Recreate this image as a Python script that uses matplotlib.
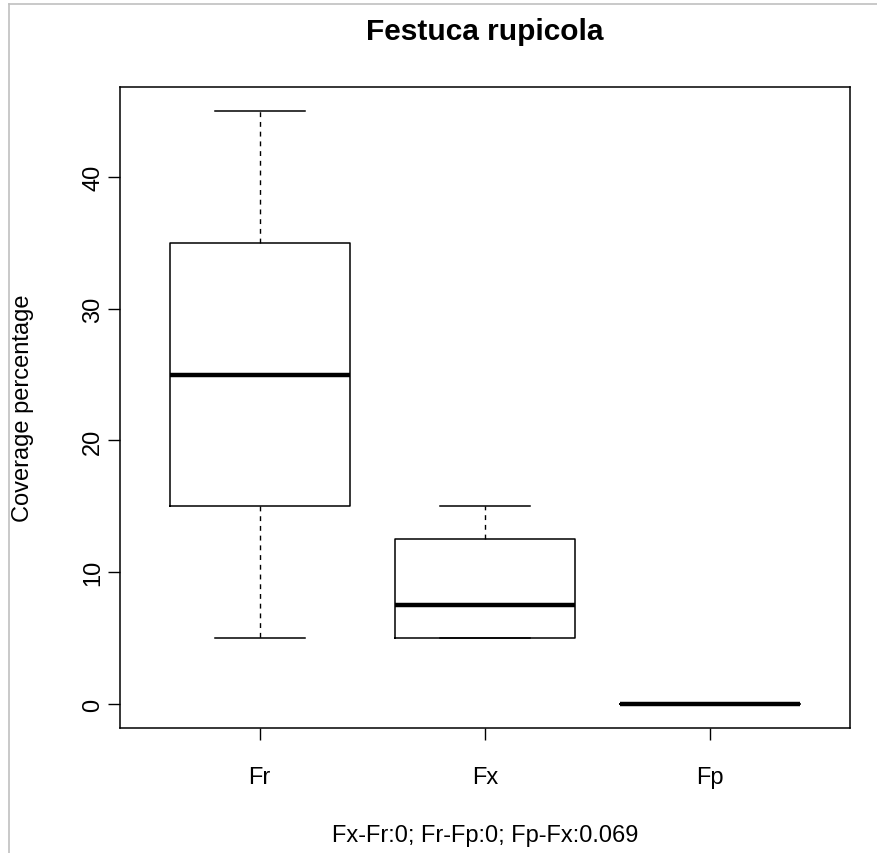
import matplotlib
matplotlib.use("Agg")
import matplotlib.pyplot as plt
from matplotlib.lines import Line2D

plt.rcParams['font.family'] = ['Liberation Sans', 'DejaVu Sans']

# box statistics
grupos = ['Fr', 'Fx', 'Fp']
whis_baixo = [5, 5, 0]
q1 = [15, 5, 0]
mediana = [25, 7.5, 0]
q3 = [35, 12.5, 0]
whis_alto = [45, 15, 0]

titulo = 'Festuca rupicola'
rotulo_y = 'Coverage percentage'
rodape = 'Fx-Fr:0; Fr-Fp:0; Fp-Fx:0.069'

stats = []
for i in range(len(grupos)):
    stats.append({'label': grupos[i], 'whislo': whis_baixo[i], 'q1': q1[i],
                  'med': mediana[i], 'q3': q3[i], 'whishi': whis_alto[i],
                  'fliers': []})

fig = plt.figure(figsize=(8.77, 8.54), dpi=100)
ax = fig.add_axes([120/877, 125/854, 730/877, 641/854])

ax.bxp(stats, positions=[1, 2, 3], widths=0.8, capwidths=0.4,
       boxprops=dict(color='black', linewidth=1.1),
       whiskerprops=dict(color='black', linewidth=1.0, linestyle=(0, (3.5, 3.5))),
       capprops=dict(color='black', linewidth=1.1),
       medianprops=dict(color='black', linewidth=3.2, solid_capstyle='butt'))

ax.set_xlim(0.38, 3.62)
ax.set_ylim(-1.8, 46.8)
ax.set_yticks([0, 10, 20, 30, 40])
ax.set_yticklabels(['0', '10', '20', '30', '40'], rotation=90, va='center')
ax.tick_params(axis='both', length=8.5, width=1.0, labelsize=17, colors='black')
ax.tick_params(axis='y', pad=3)
ax.tick_params(axis='x', pad=19)
for s in ax.spines.values():
    s.set_linewidth(1.1)

fig.text(23/877, 1 - 408/854, rotulo_y, fontsize=17, rotation=90,
         ha='center', va='center')
fig.text(485/877, 1 - 32/854, titulo, fontsize=21.5, fontweight='bold',
         ha='center', va='center')
fig.text(485/877, 1 - 836/854, rodape, fontsize=17, ha='center', va='center')

# light frame of the original export
fig.add_artist(Line2D([9/877, 1], [1 - 5/854, 1 - 5/854], color='#c0c0c0', lw=1.2,
                      transform=fig.transFigure))
fig.add_artist(Line2D([9/877, 9/877], [0, 1 - 5/854], color='#c0c0c0', lw=1.2,
                      transform=fig.transFigure))

fig.savefig('out.png', dpi=100)
